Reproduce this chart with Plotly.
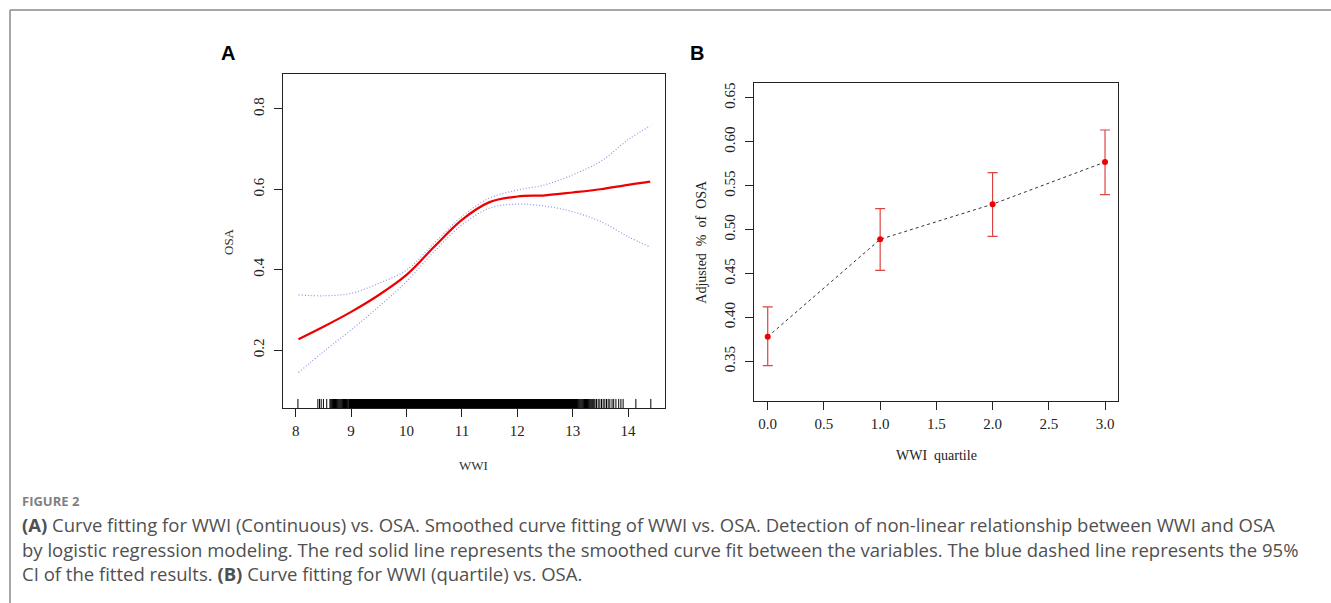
import plotly.graph_objects as go

W, H = 1331, 603

# ---------------- Panel A data ----------------
wwi_x = [8.05, 8.5, 9.0, 9.5, 10.0, 10.5, 11.0, 11.5, 12.0, 12.5, 13.0, 13.5, 14.0, 14.4]
osa_fit = [0.227, 0.258, 0.295, 0.337, 0.387, 0.457, 0.524, 0.568, 0.582, 0.585, 0.592, 0.600, 0.611, 0.619]
osa_upper = [0.337, 0.335, 0.341, 0.366, 0.399, 0.466, 0.532, 0.578, 0.598, 0.611, 0.636, 0.669, 0.723, 0.758]
osa_lower = [0.144, 0.196, 0.250, 0.308, 0.370, 0.445, 0.511, 0.553, 0.563, 0.558, 0.544, 0.520, 0.482, 0.456]

rug_sparse = [8.04, 8.40, 8.43, 8.46, 8.50, 8.56,
              13.43, 13.46, 13.49, 13.52, 13.55, 13.58, 13.61, 13.64, 13.67,
              13.71, 13.74, 13.78, 13.83, 13.87, 13.91, 14.14, 14.41]
rug_mid = [8.62, 8.64, 8.66, 8.68, 8.70, 8.72, 8.74, 8.76, 8.78, 8.80, 8.82, 8.84,
           8.86, 8.88, 8.90, 8.92, 8.94, 8.96, 8.98,
           13.01, 13.03, 13.05, 13.07, 13.09, 13.11, 13.13, 13.15, 13.17, 13.19,
           13.21, 13.23, 13.25, 13.27, 13.29, 13.31, 13.33, 13.35, 13.37, 13.40]
rug_dense = [9.00, 9.05, 9.10, 9.15, 9.20, 9.25, 9.30, 9.35, 9.40, 9.45,
             9.50, 9.55, 9.60, 9.65, 9.70, 9.75, 9.80, 9.85, 9.90, 9.95,
             10.00, 10.05, 10.10, 10.15, 10.20, 10.25, 10.30, 10.35, 10.40, 10.45,
             10.50, 10.55, 10.60, 10.65, 10.70, 10.75, 10.80, 10.85, 10.90, 10.95,
             11.00, 11.05, 11.10, 11.15, 11.20, 11.25, 11.30, 11.35, 11.40, 11.45,
             11.50, 11.55, 11.60, 11.65, 11.70, 11.75, 11.80, 11.85, 11.90, 11.95,
             12.00, 12.05, 12.10, 12.15, 12.20, 12.25, 12.30, 12.35, 12.40, 12.45,
             12.50, 12.55, 12.60, 12.65, 12.70, 12.75, 12.80, 12.85, 12.90, 12.95, 12.99]

a_xticks = [8, 9, 10, 11, 12, 13, 14]
a_yticks = [0.2, 0.4, 0.6, 0.8]
a_yticktext = ["0.2", "0.4", "0.6", "0.8"]

# ---------------- Panel B data ----------------
quartile = [0, 1, 2, 3]
adj_osa = [0.378, 0.489, 0.529, 0.577]
adj_upper = [0.412, 0.524, 0.565, 0.6135]
adj_lower = [0.345, 0.4536, 0.4924, 0.540]

b_xticks = [0.0, 0.5, 1.0, 1.5, 2.0, 2.5, 3.0]
b_yticks = [0.35, 0.40, 0.45, 0.50, 0.55, 0.60, 0.65]

caption_label = "FIGURE 2"
caption_lines = [
    "<b>(A)</b> Curve fitting for WWI (Continuous) vs. OSA. Smoothed curve fitting of WWI vs. OSA. Detection of non-linear relationship between WWI and OSA",
    "by logistic regression modeling. The red solid line represents the smoothed curve fit between the variables. The blue dashed line represents the 95%",
    "CI of the fitted results. <b>(B)</b> Curve fitting for WWI (quartile) vs. OSA.",
]


def px(x):
    return x / W


def py(y):
    return 1 - y / H


SERIF = "Liberation Serif, Times New Roman, serif"
SANS = "Liberation Sans, Arial, sans-serif"


def segs(vals, y0, y1):
    xs, ys = [], []
    for v in vals:
        xs += [v, v, None]
        ys += [y0, y1, None]
    return xs, ys


fig = go.Figure()

# Panel A traces
ci_line = dict(color="#8f96e6", width=1.2, dash="1px,2px", shape="spline")
fig.add_trace(go.Scatter(x=wwi_x, y=osa_upper, mode="lines", line=ci_line, xaxis="x", yaxis="y", hoverinfo="skip"))
fig.add_trace(go.Scatter(x=wwi_x, y=osa_lower, mode="lines", line=ci_line, xaxis="x", yaxis="y", hoverinfo="skip"))
fig.add_trace(go.Scatter(x=wwi_x, y=osa_fit, mode="lines", line=dict(color="#ee0000", width=2.2, shape="spline"),
                         xaxis="x", yaxis="y"))

RUG_H = 0.028
for vals, w in ((rug_sparse, 1), (rug_mid, 1.3), (rug_dense, 4)):
    sx, sy = segs(vals, 0, RUG_H)
    fig.add_trace(go.Scatter(x=sx, y=sy, mode="lines", line=dict(color="#000000", width=w),
                             xaxis="x", yaxis="y3", hoverinfo="skip"))

# Panel B traces
fig.add_trace(go.Scatter(
    x=quartile, y=adj_osa, mode="lines+markers",
    line=dict(color="#333333", width=1, dash="3px,3px"),
    marker=dict(color="#ee0000", size=6),
    error_y=dict(type="data", symmetric=False,
                 array=[u - m for u, m in zip(adj_upper, adj_osa)],
                 arrayminus=[m - l for m, l in zip(adj_osa, adj_lower)],
                 color="#dd4444", thickness=1.2, width=5),
    xaxis="x2", yaxis="y2"))

axis_common = dict(showline=True, mirror=True, linecolor="#222222", linewidth=1, ticks="outside",
                   ticklen=8, tickcolor="#222222", showgrid=False, zeroline=False,
                   tickfont=dict(family=SERIF, size=15, color="#222222"))

fig.update_layout(
    width=W, height=H, margin=dict(l=0, r=0, t=0, b=0),
    paper_bgcolor="white", plot_bgcolor="white", showlegend=False,
    xaxis=dict(domain=[px(283.3), px(665)], range=[7.776, 14.666], tickvals=a_xticks, anchor="y",
               ticklabelstandoff=1, **axis_common),
    yaxis=dict(domain=[py(408.3), py(74.3)], range=[0.055, 0.886], tickvals=a_yticks, ticktext=a_yticktext,
               tickangle=-90, anchor="x", ticklabelstandoff=4, **axis_common),
    yaxis3=dict(overlaying="y", range=[0, 1], visible=False, anchor="x"),
    xaxis2=dict(domain=[px(754), px(1118.3)], range=[-0.122, 3.118], tickvals=b_xticks, tickformat=".1f",
                anchor="y2", ticklabelstandoff=1, **axis_common),
    yaxis2=dict(domain=[py(401), py(82.7)], range=[0.3048, 0.6674], tickvals=b_yticks, tickformat=".2f",
                tickangle=-90, anchor="x2", ticklabelstandoff=4, **axis_common),
)

ann = []
ann.append(dict(text="<b>A</b>", x=px(228), y=py(53), font=dict(family=SANS, size=20, color="black")))
ann.append(dict(text="<b>B</b>", x=px(697), y=py(53), font=dict(family=SANS, size=20, color="black")))
ann.append(dict(text="OSA", x=px(228.5), y=py(241.5), textangle=-90, font=dict(family=SERIF, size=13, color="#333333")))
ann.append(dict(text="WWI", x=px(474), y=py(465), font=dict(family=SERIF, size=13, color="#333333")))
ann.append(dict(text="Adjusted  %  of  OSA", x=px(702), y=py(241.7), textangle=-90, font=dict(family=SERIF, size=14, color="#222222")))
ann.append(dict(text="WWI  quartile", x=px(936.5), y=py(455), font=dict(family=SERIF, size=14, color="#222222")))
ann.append(dict(text="<b>" + caption_label + "</b>", x=px(20), y=py(501), xanchor="left",
                font=dict(family="Open Sans", size=13, color="#808080")))
for i, (line, yy) in enumerate(zip(caption_lines, [524, 549, 573])):
    ann.append(dict(text=line, x=px(20), y=py(yy), xanchor="left",
                    font=dict(family="Open Sans", size=18.5, color="#505050")))
for a in ann:
    a.setdefault("xanchor", "center")
    a.setdefault("yanchor", "middle")
    fig.add_annotation(xref="paper", yref="paper", showarrow=False, **a)

# outer frame (top and left edges)
fig.add_shape(type="line", xref="paper", yref="paper", x0=px(10), x1=1, y0=py(10), y1=py(10),
              line=dict(color="#8a8a8a", width=1.5))
fig.add_shape(type="line", xref="paper", yref="paper", x0=px(10), x1=px(10), y0=py(10), y1=0,
              line=dict(color="#8a8a8a", width=1.5))

fig.write_html("out.html", config={"displayModeBar": False},
               post_script="document.body.style.margin='0';document.body.style.overflow='hidden';")
